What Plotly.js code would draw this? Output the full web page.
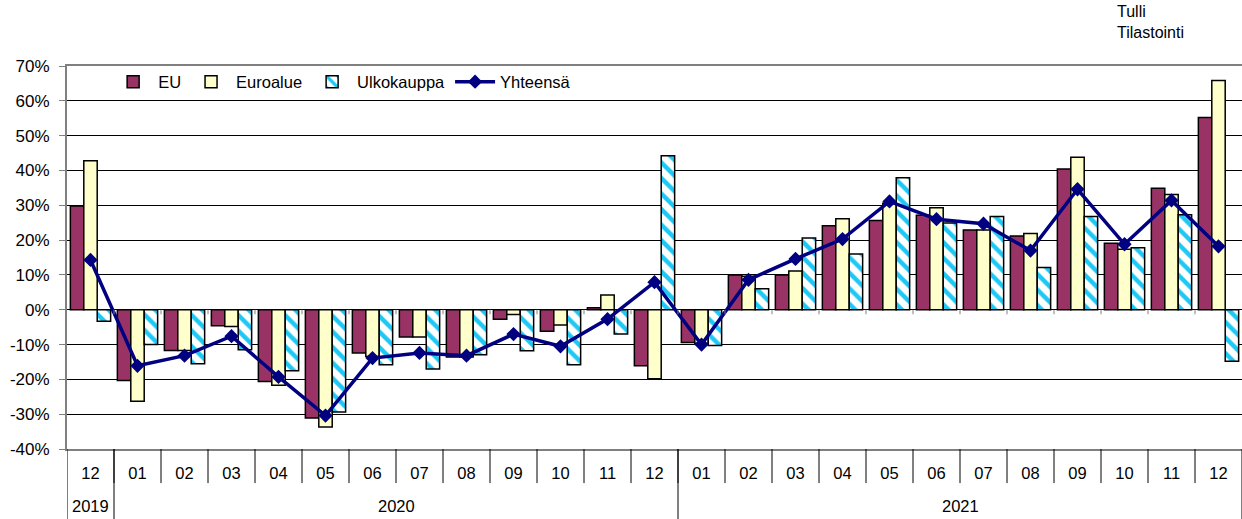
<!DOCTYPE html>
<html>
<head>
<meta charset="utf-8">
<script src="https://cdn.plot.ly/plotly-3.0.1.min.js"></script>
<style>
  html, body { margin: 0; padding: 0; background: #fff; }
  #chart { width: 1242px; height: 519px; }
</style>
</head>
<body>
<div id="chart"></div>
<script>
// ---- data ----
const months = ['12','01','02','03','04','05','06','07','08','09','10','11','12',
                '01','02','03','04','05','06','07','08','09','10','11','12'];
const years  = ['2019','2020','2020','2020','2020','2020','2020','2020','2020','2020','2020','2020','2020',
                '2021','2021','2021','2021','2021','2021','2021','2021','2021','2021','2021','2021'];
const eu        = [29.8, -20.3, -11.7, -4.6, -20.6, -31.1, -12.4, -7.8, -13.6, -2.7, -6.2, 0.6, -16.1,
                   -9.4, 10.0, 10.0, 24.1, 25.6, 27.1, 22.9, 21.2, 40.4, 19.1, 34.9, 55.2];
const euroalue  = [42.8, -26.3, -11.7, -4.8, -21.7, -33.7, -13.4, -7.8, -13.6, -1.4, -4.4, 4.2, -19.8,
                   -9.6, 9.6, 11.1, 26.1, 30.6, 29.3, 22.9, 21.9, 43.8, 17.4, 33.1, 65.8];
const ulkokauppa= [-3.3, -10.0, -15.5, -11.5, -17.5, -29.4, -15.8, -17.0, -12.9, -11.8, -15.8, -7.0, 44.2,
                   -10.3, 6.0, 20.6, 16.0, 37.9, 24.9, 26.8, 12.1, 26.8, 17.8, 27.3, -14.8];
const yhteensa  = [14.3, -16.1, -13.2, -7.6, -19.3, -30.4, -13.9, -12.4, -13.2, -7.0, -10.5, -2.7, 7.9,
                   -10.0, 8.6, 14.6, 20.3, 31.1, 26.0, 24.7, 17.0, 34.6, 18.8, 31.4, 18.2];
const yTickVals = [-40,-30,-20,-10,0,10,20,30,40,50,60,70];
const yTickText = ['-40%','-30%','-20%','-10%','0%','10%','20%','30%','40%','50%','60%','70%'];
const yearLabels = ['2019','2020','2021'];

// ---- build ----
const cats = months.map((m, i) => years[i] + '-' + m);
const FONT = 'Liberation Sans, Arial, sans-serif';
const outline = { color: '#000', width: 1.5 };

const traces = [
  { type: 'bar', name: 'EU', x: cats, y: eu,
    marker: { color: '#993366', line: outline } },
  { type: 'bar', name: 'Euroalue', x: cats, y: euroalue,
    marker: { color: '#FFFFCC', line: outline } },
  { type: 'bar', name: 'Ulkokauppa', x: cats, y: ulkokauppa,
    marker: { color: '#FFFFFF', line: outline,
      pattern: { shape: '\\', fgcolor: '#1EC8F5', bgcolor: '#FFFFFF', size: 11, solidity: 0.4 } } },
  { type: 'scatter', mode: 'lines+markers', name: 'Yhteensä', x: cats, y: yhteensa,
    line: { color: '#000080', width: 3.5 },
    marker: { symbol: 'diamond', size: 11, color: '#000080' } }
];

// decorative separators
const shapes = [];
const n = cats.length;
for (let i = 1; i < n; i++) {
  // month separators below axis
  shapes.push({ type: 'line', xref: 'x', yref: 'paper', x0: i - 0.5, x1: i - 0.5,
    y0: 0, y1: -0.089, line: { color: '#000', width: 1 } });
  // tick marks on zero line
  shapes.push({ type: 'line', xref: 'x', yref: 'y', x0: i - 0.5, x1: i - 0.5,
    y0: 0, y1: -1.3, line: { color: '#808080', width: 1 } });
}
// year separators
const yearBounds = [];
for (let i = 0; i <= n; i++) {
  if (i === 0 || i === n || years[i] !== years[i - 1]) yearBounds.push(i - 0.5);
}
yearBounds.forEach(b => shapes.push({ type: 'line', xref: 'x', yref: 'paper', x0: b, x1: b,
  y0: 0, y1: -0.185, line: { color: '#000', width: 1 } }));

// year label annotations centered on their span
const annotations = [];
yearLabels.forEach(yr => {
  const idx = years.map((v, i) => v === yr ? i : -1).filter(i => i >= 0);
  const mid = (idx[0] + idx[idx.length - 1]) / 2;
  annotations.push({ xref: 'x', yref: 'paper', x: mid, y: -0.149, text: yr, showarrow: false,
    xanchor: 'center', yanchor: 'middle', font: { family: FONT, size: 16.5, color: '#000' } });
});
annotations.push({ xref: 'paper', yref: 'paper', x: 0.8915, y: 1.171, xanchor: 'left', yanchor: 'top',
  align: 'left', showarrow: false, text: 'Tulli<br>Tilastointi',
  font: { family: FONT, size: 16, color: '#000' } });

const layout = {
  width: 1242, height: 519,
  margin: { l: 67, r: 0, t: 66, b: 70, pad: 0 },
  paper_bgcolor: '#fff', plot_bgcolor: '#fff',
  font: { family: FONT, size: 16.5, color: '#000' },
  barmode: 'group', bargap: 0.143, bargroupgap: 0,
  showlegend: true,
  legend: { orientation: 'h', x: 0.035, y: 1.004, xanchor: 'left', yanchor: 'top',
    bgcolor: 'rgba(0,0,0,0)', font: { family: FONT, size: 16.5, color: '#000' },
    itemwidth: 40, traceorder: 'normal' },
  xaxis: { type: 'category', categoryorder: 'array', categoryarray: cats,
    tickvals: cats, ticktext: months, ticks: '', showgrid: false, zeroline: false,
    showline: true, linecolor: '#808080', linewidth: 2, mirror: true,
    range: [-0.5, n - 0.5], ticklabelstandoff: 8,
    tickfont: { family: FONT, size: 16.5, color: '#000' } },
  yaxis: { range: [-40, 70], tickvals: yTickVals, ticktext: yTickText,
    showgrid: true, gridcolor: '#000', gridwidth: 1,
    zeroline: true, zerolinecolor: '#000', zerolinewidth: 1,
    showline: true, linecolor: '#808080', linewidth: 2,
    ticks: 'outside', ticklen: 6, tickcolor: '#808080', tickwidth: 1,
    ticklabelstandoff: 6,
    tickfont: { family: FONT, size: 17, color: '#000' } },
  shapes: shapes,
  annotations: annotations
};

Plotly.newPlot('chart', traces, layout, { displayModeBar: false, staticPlot: true });
</script>
</body>
</html>
